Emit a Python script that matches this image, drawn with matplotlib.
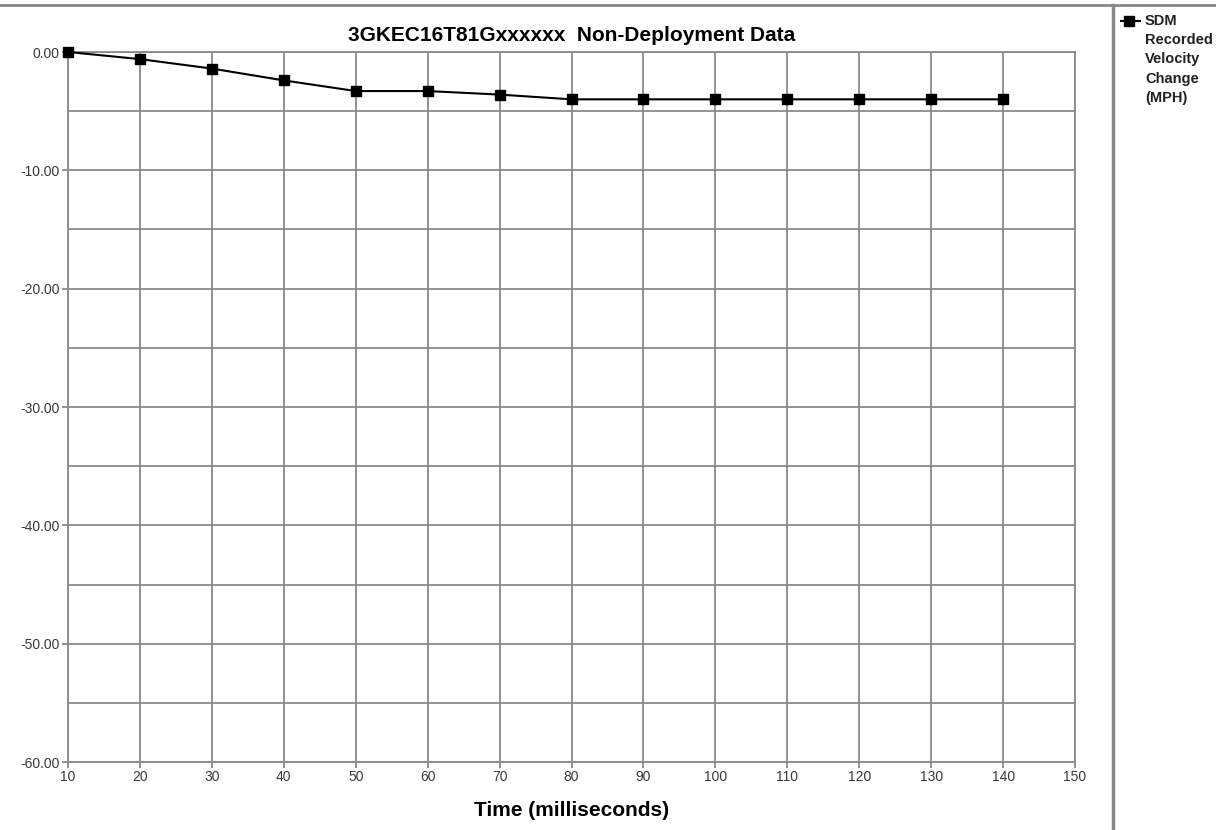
import matplotlib
matplotlib.use('Agg')
import matplotlib.pyplot as plt
from matplotlib.lines import Line2D
import numpy as np

time_ms = [10, 20, 30, 40, 50, 60, 70, 80, 90, 100, 110, 120, 130, 140]
delta_v = [0.0, -0.6, -1.4, -2.4, -3.3, -3.3, -3.6, -4.0, -4.0, -4.0, -4.0, -4.0, -4.0, -4.0]
x_ticks = list(range(10, 151, 10))
y_ticks = [0, -10, -20, -30, -40, -50, -60]
title = '3GKEC16T81Gxxxxxx  Non-Deployment Data'
series_label = 'SDM\nRecorded\nVelocity\nChange\n(MPH)'

plt.rcParams['font.family'] = ['Liberation Sans', 'DejaVu Sans']
grid_col = '#8a8a8a'
W, H = 1216, 830

fig = plt.figure(figsize=(W / 100, H / 100), dpi=100)
ax = fig.add_axes([68 / W, 1 - 762 / H, (1075 - 68) / W, (762 - 52) / H])

ax.plot(time_ms, delta_v, color='black', lw=1.5, marker='s', ms=7, zorder=3,
        clip_on=False)

ax.set_xlim(10, 150)
ax.set_ylim(-60, 0)
ax.set_xticks(x_ticks)
ax.set_yticks(y_ticks)
ax.set_yticks(np.arange(-55, 0, 10), minor=True)
ax.set_yticklabels(['%.2f' % v for v in y_ticks])
ax.grid(True, which='both', color=grid_col, lw=1.3)
ax.tick_params(which='both', length=4, color=grid_col, width=1.3,
               labelsize=10, labelcolor='#3a3a3a', pad=2)
ax.tick_params(axis='y', which='minor', length=0)
for s in ax.spines.values():
    s.set_color(grid_col)
    s.set_linewidth(1.3)
ax.set_axisbelow(True)

ax.set_title(title, fontsize=15, fontweight='bold', pad=8)
ax.set_xlabel('Time (milliseconds)', fontsize=15, fontweight='bold', labelpad=12)

# frame lines around the chart area
fig.add_artist(Line2D([0, 1], [1 - 5 / H, 1 - 5 / H], color='#888888', lw=2))
fig.add_artist(Line2D([1113 / W, 1113 / W], [0, 1 - 5 / H], color='#888888', lw=2.5))

# legend
ly = 1 - 21 / H
fig.add_artist(Line2D([1121 / W, 1129 / W, 1140 / W], [ly, ly, ly],
                      color='black', lw=1.5, marker='s', ms=7, markevery=[1]))
fig.text(1145 / W, 1 - 14 / H, series_label, fontsize=10.5, fontweight='bold',
         va='top', ha='left', color='#222222', linespacing=1.47)

fig.savefig('out.png', dpi=100)
